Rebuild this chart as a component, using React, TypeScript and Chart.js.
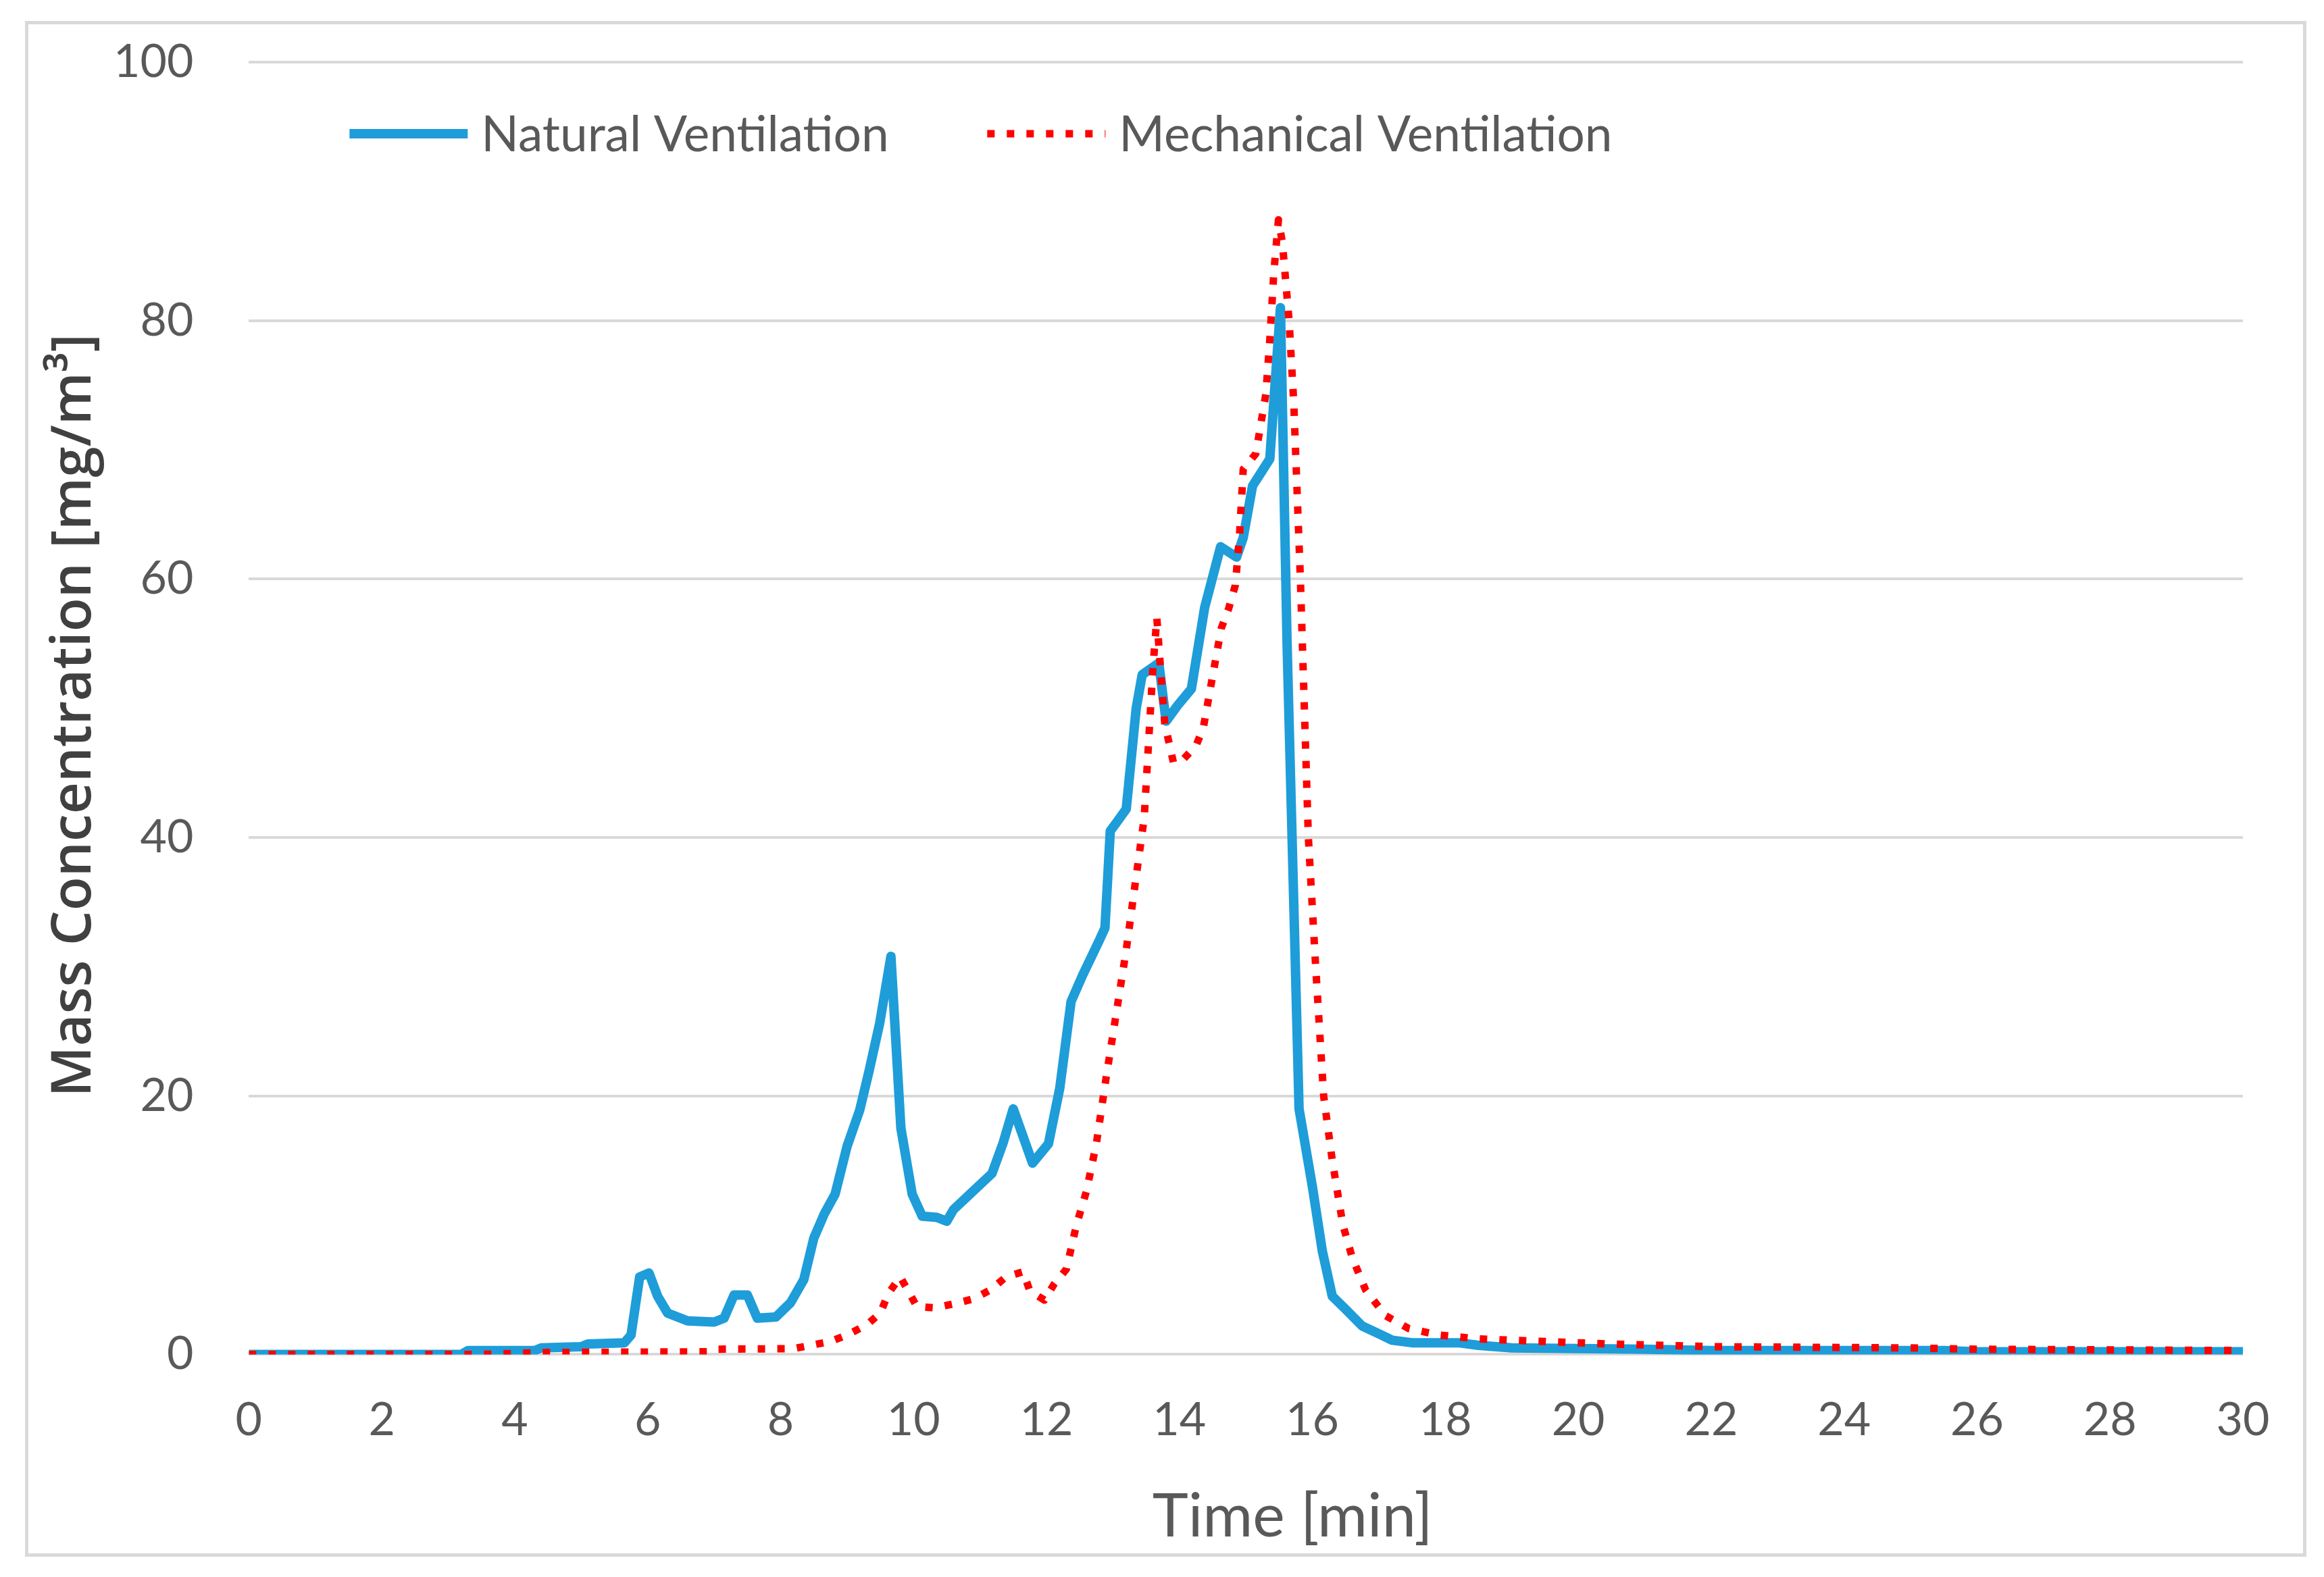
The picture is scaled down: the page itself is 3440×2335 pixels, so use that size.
import { useEffect, useRef } from 'react'
import { Chart, registerables } from 'chart.js'

Chart.register(...registerables)

// values
const natTime = [
  0, 3.2, 3.3, 4.3, 4.4, 5.0, 5.1, 5.65, 5.75, 5.88, 6.02, 6.15, 6.3, 6.6, 7.0, 7.15, 7.3, 7.5, 7.65,
  7.93, 8.15, 8.35, 8.5, 8.66, 8.82, 9.0, 9.19, 9.33, 9.49, 9.66, 9.81, 9.98, 10.13, 10.35, 10.5, 10.6,
  10.87, 11.18, 11.35, 11.5, 11.79, 12.03, 12.2, 12.37, 12.54, 12.8, 12.88, 12.96, 13.06, 13.2, 13.35,
  13.44, 13.69, 13.8, 13.97, 14.18, 14.38, 14.62, 14.86, 14.96, 15.1, 15.36, 15.52, 15.62, 15.8, 16.0,
  16.15, 16.3, 16.5, 16.75, 17.0, 17.2, 17.5, 18.2, 18.5, 19.0, 21.0, 22.0, 25.5, 26.0, 30.0,
]
const natValue = [
  0, 0, 0.3, 0.3, 0.5, 0.6, 0.8, 0.9, 1.5, 6.0, 6.3, 4.5, 3.2, 2.6, 2.5, 2.8, 4.6, 4.6, 2.8,
  2.9, 4.0, 5.8, 9.0, 10.9, 12.4, 16.1, 18.9, 21.9, 25.6, 30.8, 17.5, 12.4, 10.7, 10.6, 10.3, 11.2,
  12.5, 14.0, 16.4, 19.0, 14.8, 16.3, 20.6, 27.3, 29.3, 32.1, 33, 40.5, 41.2, 42.2, 50,
  52.6, 53.5, 49, 50.2, 51.5, 57.8, 62.5, 61.7, 63.2, 67.2, 69.3, 81, 55, 19, 13,
  8, 4.5, 3.5, 2.2, 1.6, 1.1, 0.9, 0.9, 0.7, 0.5, 0.4, 0.3, 0.3, 0.2, 0.2,
]

const mechTime = [
  0, 3.5, 4.5, 6.9, 7.0, 8.2, 8.45, 8.75, 9.0, 9.3, 9.5, 9.62, 9.8, 9.91, 10.05, 10.32, 10.6, 10.9,
  11.16, 11.39, 11.65, 11.75, 11.97, 12.11, 12.3, 12.45, 12.6, 12.75, 12.9, 13.05, 13.2, 13.35, 13.47,
  13.53, 13.6, 13.66, 13.71, 13.78, 13.91, 14.05, 14.25, 14.36, 14.5, 14.63, 14.74, 14.84, 14.9, 14.96,
  15.15, 15.3, 15.36, 15.42, 15.49, 15.55, 15.65, 15.72, 15.82, 15.94, 16.05, 16.17, 16.3, 16.46, 16.6,
  16.8, 17.1, 17.45, 17.9, 18.5, 19.5, 20.5, 22, 25, 26, 30,
]
const mechValue = [
  0, 0, 0.15, 0.2, 0.4, 0.45, 0.7, 1.0, 1.5, 2.3, 3.2, 4.7, 6.0, 5.0, 3.7, 3.6, 3.9, 4.3,
  5.0, 6.0, 6.4, 4.9, 4.2, 5.4, 6.6, 10, 12.6, 16.3, 21.5, 26.4, 31.3, 37, 41.5,
  46.8, 53, 57, 53.5, 48.8, 45.8, 46, 47.1, 48.5, 52.5, 56.2, 57.7, 59.5, 63, 68.5,
  69.7, 74.3, 78.5, 83.7, 87.8, 86, 80, 73.7, 60, 40, 30, 20, 15, 10, 7.5,
  5, 3, 2, 1.5, 1.2, 1.0, 0.8, 0.6, 0.5, 0.4, 0.3,
]

const xTicks = [0, 2, 4, 6, 8, 10, 12, 14, 16, 18, 20, 22, 24, 26, 28, 30]
const yTicks = [0, 20, 40, 60, 80, 100]

const NAT_LABEL = 'Natural Ventilation'
const MECH_LABEL = 'Mechanical Ventilation'
const legendOrder = [NAT_LABEL, MECH_LABEL]

const toPoints = (xs: number[], ys: number[]) => xs.map((x, i) => ({ x, y: ys[i] }))

// Excel-style legend sitting inside the plot, under the 100 gridline
const insideLegend = {
  id: 'insideLegend',
  afterDraw(chart: Chart) {
    const { ctx, chartArea } = chart
    const starts = [149, 1093]
    const y = chartArea.top + 106
    ctx.save()
    ctx.font = '73px Lato'
    ctx.textBaseline = 'middle'
    ctx.fillStyle = '#595959'
    legendOrder.forEach((label, i) => {
      const ds: any = chart.data.datasets.find(d => d.label === label)
      if (!ds) return
      const x = chartArea.left + starts[i]
      ctx.beginPath()
      ctx.lineWidth = ds.borderWidth
      ctx.strokeStyle = ds.borderColor
      ctx.lineCap = 'butt'
      ctx.setLineDash(ds.borderDash || [])
      ctx.moveTo(x, y)
      ctx.lineTo(x + 175, y)
      ctx.stroke()
      ctx.setLineDash([])
      ctx.fillText(label, x + 195, y + 2)
    })
    ctx.restore()
  },
}

export default function App() {
  const canvasRef = useRef<HTMLCanvasElement>(null)
  const chartRef = useRef<Chart | null>(null)

  useEffect(() => {
    document.body.style.margin = '0'
    if (!canvasRef.current) return
    if (chartRef.current) chartRef.current.destroy()

    chartRef.current = new Chart(canvasRef.current, {
      type: 'line',
      data: {
        datasets: [
          {
            label: MECH_LABEL,
            data: toPoints(mechTime, mechValue),
            borderColor: '#ff0000',
            borderWidth: 11,
            borderDash: [11, 18],
            borderJoinStyle: 'round',
            pointRadius: 0,
            tension: 0,
            fill: false,
          },
          {
            label: NAT_LABEL,
            data: toPoints(natTime, natValue),
            borderColor: '#1e9dd9',
            borderWidth: 14,
            borderJoinStyle: 'round',
            pointRadius: 0,
            tension: 0,
            fill: false,
          },
        ],
      },
      options: {
        animation: false,
        responsive: true,
        maintainAspectRatio: false,
        layout: { padding: { left: 68, right: 120, top: 92, bottom: 44 } },
        plugins: {
          legend: { display: false },
          tooltip: { enabled: false },
        },
        scales: {
          x: {
            type: 'linear',
            min: 0,
            max: 30,
            afterBuildTicks: axis => { axis.ticks = xTicks.map(value => ({ value })) },
            grid: { display: false, drawTicks: false },
            border: { display: false },
            ticks: { font: { family: 'Lato', size: 68 }, color: '#595959', padding: 57 },
            title: {
              display: true,
              // leading spaces nudge the title right, as in the reference
              text: '      Time [min]',
              color: '#595959',
              font: { family: 'Lato', size: 90, lineHeight: 1 },
              padding: { top: 0, bottom: 0 },
            },
          },
          y: {
            min: 0,
            max: 100,
            afterBuildTicks: axis => { axis.ticks = yTicks.map(value => ({ value })) },
            grid: { color: '#d9d9d9', lineWidth: 4, drawTicks: true, tickLength: 82, tickColor: 'transparent' },
            border: { display: false },
            ticks: { font: { family: 'Lato', size: 68 }, color: '#595959', padding: 0 },
            title: {
              display: true,
              text: 'Mass Concentration [mg/m³] ',
              color: '#404040',
              font: { family: 'Open Sans', size: 82, weight: '600', lineHeight: 1 },
              padding: { top: 2, bottom: 16 },
            },
          },
        },
      },
      plugins: [insideLegend],
    })

    return () => { chartRef.current?.destroy() }
  }, [])

  return (
    <div style={{ position: 'relative', width: 3440, height: 2335, background: '#fff' }}>
      <div
        style={{
          position: 'absolute',
          left: 37,
          top: 31,
          width: 3377,
          height: 2274,
          border: '5px solid #d9d9d9',
          boxSizing: 'border-box',
        }}
      />
      <canvas ref={canvasRef} style={{ position: 'absolute', left: 0, top: 0, width: 3440, height: 2335 }} />
    </div>
  )
}
